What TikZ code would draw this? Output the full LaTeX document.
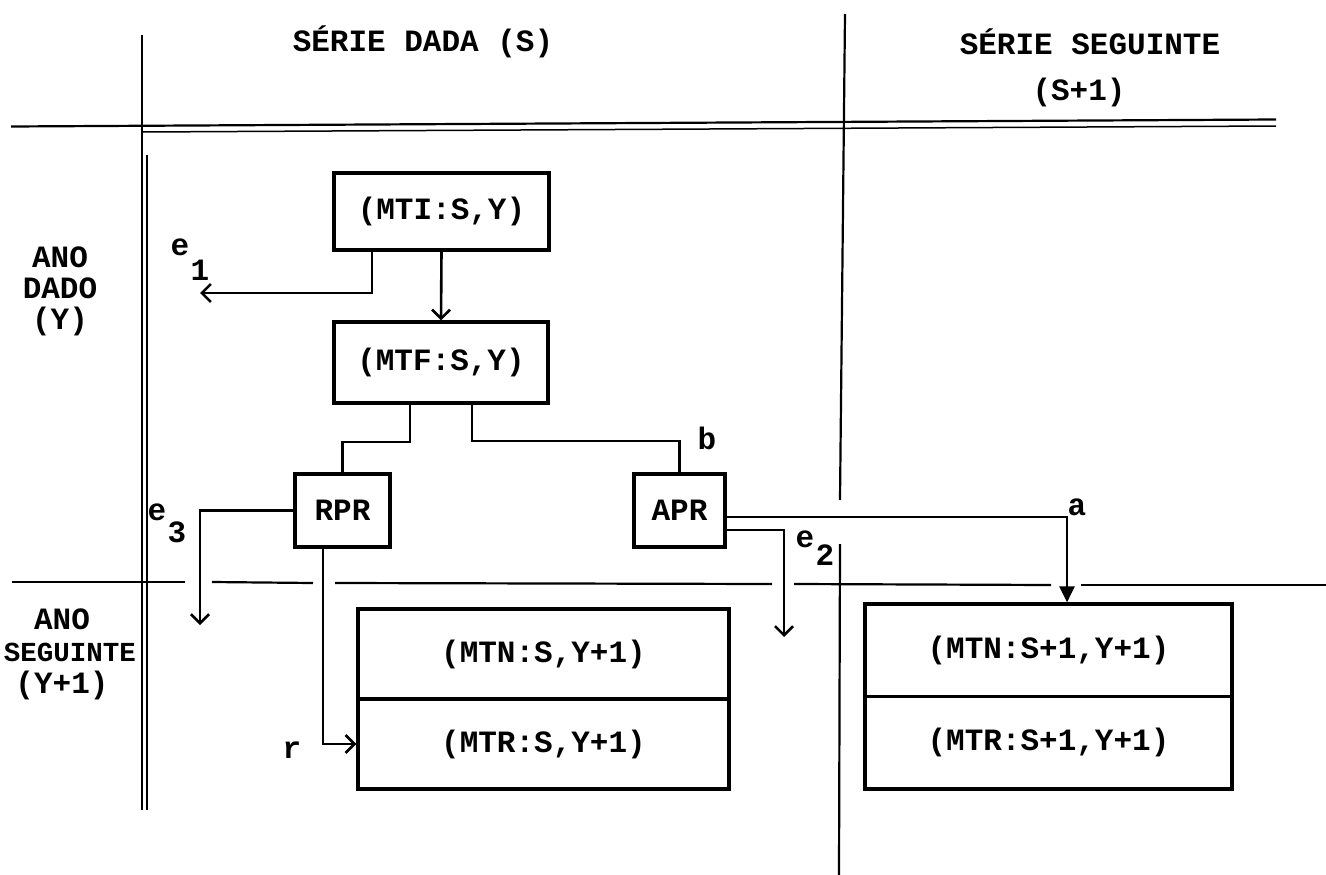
\documentclass[tikz,border=0pt]{standalone}
\usepackage{fontspec}
\newfontfamily\tw{Liberation Mono}
\usetikzlibrary{arrows.meta}
\begin{document}
\begin{tikzpicture}[x=1pt,y=-1pt,
  every node/.style={font=\tw\bfseries\fontsize{31}{31}\selectfont, inner sep=0pt},
  box/.style={draw, line width=3.2pt},
  conn/.style={line width=2.6pt},
  openarr/.style={conn, -{Straight Barb[length=9pt,width=18pt,line width=2.6pt]}},
  solidarr/.style={conn, -{Triangle[length=16pt,width=15pt]}},
  rule/.style={line width=2.2pt},
  thinrule/.style={line width=1.5pt},
  txt/.style={align=center}]
\useasboundingbox (0,0) rectangle (1326,875);

% ---- grid rules ----
\draw[rule] (11,126.5) -- (1276,119.5);
\draw[thinrule] (143,132) -- (1276,126);
\draw[rule] (142,35) -- (142,810);
\draw[thinrule] (147,155) -- (147,810);
\draw[rule] (845,14) -- (840,500);
\draw[rule] (840,544) -- (839,875);
\draw[rule] (12,582) -- (185,582);
\draw[rule] (212,582) -- (313,583);
\draw[rule] (335,583) -- (772,584);
\draw[rule] (794,584) -- (1051,585);
\draw[rule] (1081,585) -- (1326,585);

% ---- headings ----
\node[txt] (h1) at (423,42) {SÉRIE DADA (S)};
\node[txt] (h2) at (1090,42) {SÉRIE SEGUINTE};
\node[txt] (h3) at (1079,92) {(S+1)};
\node[txt, text width=200pt] (r1) at (60,291) {ANO\\DADO\\(Y)};
\node[txt] (r2a) at (62,619) {ANO};
\node[txt, font=\tw\bfseries\fontsize{27.5}{28}\selectfont] (r2b) at (70,652) {SEGUINTE};
\node[txt] (r2c) at (62,685) {(Y+1)};

% ---- boxes ----
\node[box, minimum width=215pt, minimum height=77pt] (mti) at (441.5,211.5) {(MTI:S,Y)};
\node[box, minimum width=214pt, minimum height=81pt] (mtf) at (441,362.5) {(MTF:S,Y)};
\node[box, minimum width=95pt, minimum height=73pt] (rpr) at (342.5,510.5) {RPR};
\node[box, minimum width=91pt, minimum height=73pt] (apr) at (679.5,510.5) {APR};
\node[box, minimum width=371pt, minimum height=90pt] (mtn1) at (543.5,654) {(MTN:S,Y+1)};
\node[box, minimum width=371pt, minimum height=90pt] (mtr1) at (543.5,744) {(MTR:S,Y+1)};
\node[box, minimum width=367pt, minimum height=92.5pt] (mtn2) at (1048.5,650.25) {(MTN:S+1,Y+1)};
\node[box, minimum width=367pt, minimum height=92.5pt] (mtr2) at (1048.5,742.75) {(MTR:S+1,Y+1)};

% ---- helper coordinates ----
\coordinate (e1x) at (372,0);
\coordinate (e1tip) at (200,293);
\coordinate (j1) at (410,442);
\coordinate (j3) at (472,441);
\coordinate (e3tip) at (200,625);
\coordinate (rx) at (323,0);
\coordinate (aturn) at (1067,517);
\coordinate (e2turn) at (784,530);
\coordinate (e2tip) at (784,637);

% ---- connectors ----
\draw[openarr] (mti.south) -- (mtf.north);
\draw[openarr] (mti.south -| e1x) |- (e1tip);
\draw[conn] (mtf.south -| j1) -- (j1) -| (rpr.north);
\draw[conn] (mtf.south -| j3) -- (j3) -| (apr.north);
\draw[openarr] (rpr.west) -| (e3tip);
\draw[openarr] (rpr.south -| rx) |- (mtr1.west);
\draw[solidarr] (apr.east |- aturn) -- (aturn) -- (aturn |- mtn2.north);
\draw[openarr] (apr.east |- e2turn) -- (e2turn) -- (e2tip);

% ---- labels ----
\node (le1) at (180,247) {e};
\node (le1s) at (200,270) {1};
\node (le3) at (157,512) {e};
\node (le3s) at (177,532) {3};
\node (le2) at (805,539) {e};
\node (le2s) at (825,555) {2};
\node (lb) at (707,438) {b};
\node (la) at (1077,507) {a};
\node (lr) at (292,750) {r};
\end{tikzpicture}
\end{document}
